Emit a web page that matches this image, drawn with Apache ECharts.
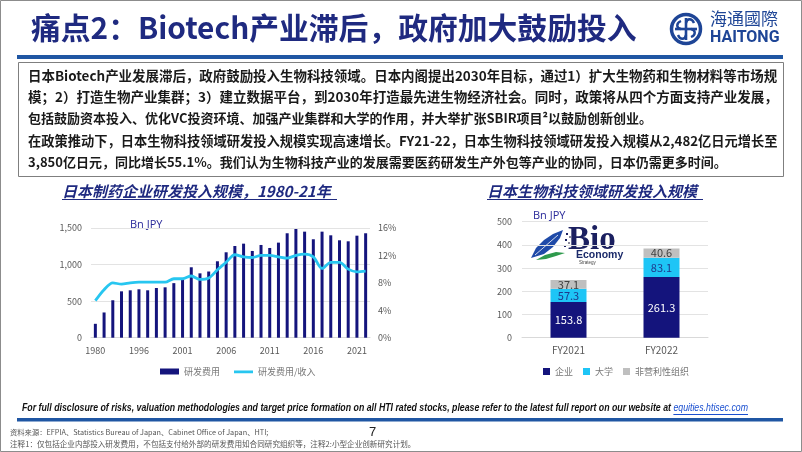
<!DOCTYPE html>
<html>
<head>
<meta charset="utf-8">
<script src="https://cdn.jsdelivr.net/npm/echarts@6/dist/echarts.min.js"></script>
<style>
html,body{margin:0;padding:0;background:#fff;}
#c{width:802px;height:452px;}
</style>
</head>
<body>
<div id="c"></div>
<script>
// ---------------- data ----------------
const years = ['1980','1985','1990','1994','1995','1996','1997','1998','1999','2000','2001','2002','2003','2004','2005','2006','2007','2008','2009','2010','2011','2012','2013','2014','2015','2016','2017','2018','2019','2020','2021','2022'];
const rdSpend = [190,345,512,634,648,662,648,680,689,746,791,963,880,905,1045,1168,1254,1286,1186,1268,1227,1300,1428,1486,1450,1346,1450,1400,1332,1318,1395,1428];
const rdRatio = [5.4,7.0,8.0,7.8,8.0,8.1,8.1,8.1,8.1,8.6,8.6,9.0,8.5,8.7,9.9,11.0,12.1,11.8,11.7,12.0,12.0,11.8,11.6,12.0,12.2,11.8,10.1,11.0,11.0,10.0,9.6,9.7];
const leftTicks = [0,500,1000,1500];
const rightTicks = [0,4,8,12,16];

const fyCats = ['FY2021','FY2022'];
const corp = [153.8,261.3];
const univ = [57.3,83.1];
const nonprofit = [37.1,40.6];

const navy = '#14147c';
const cyan = '#27c6f0';
const titleBlue = '#1f2a80';
const CJK = "'Noto Sans CJK SC','Noto Sans',sans-serif";

const bodyLines = [
 '日本Biotech产业发展滞后，政府鼓励投入生物科技领域。日本内阁提出2030年目标，通过1）扩大生物药和生物材料等市场规',
 '模；2）打造生物产业集群；3）建立数据平台，到2030年打造最先进生物经济社会。同时，政策将从四个方面支持产业发展，',
 '包括鼓励资本投入、优化VC投资环境、加强产业集群和大学的作用，并大举扩张SBIR项目²以鼓励创新创业。',
 '在政策推动下，日本生物科技领域研发投入规模实现高速增长。FY21-22，日本生物科技领域研发投入规模从2,482亿日元增长至',
 '3,850亿日元，同比增长55.1%。我们认为生物科技产业的发展需要医药研发生产外包等产业的协同，日本仍需更多时间。'
];
const bodyY = [76,97,118,141,162];
const bodyJustify = [true,true,false,true,false];

const footA = 'For full disclosure of risks, valuation methodologies and target price formation on all HTI rated stocks, please refer to the latest full report on our website at ';
const footB = 'equities.htisec.com';

// ---------------- helpers ----------------
const mctx = document.createElement('canvas').getContext('2d');
function measure(font, text){ mctx.font = font; return mctx.measureText(text).width; }
function fitSize(prefix, family, text, target, base){
  const w = measure(prefix + ' ' + base + 'px ' + family, text);
  return base * target / w;
}

const chart = echarts.init(document.getElementById('c'), null, {renderer:'canvas'});

function txt(x, y, text, font, fill, extra){
  return {type:'text', x:x, y:y, style:Object.assign({text:text, font:font, fill:fill, verticalAlign:'middle'}, extra||{})};
}
function bez(x1,y1,cx1,cy1,cx2,cy2,x2,y2,color,w){
  return {type:'bezierCurve', shape:{x1:x1,y1:y1,cpx1:cx1,cpy1:cy1,cpx2:cx2,cpy2:cy2,x2:x2,y2:y2}, style:{fill:'none',stroke:color,lineWidth:w}};
}
const hb = '#1e4596';

const titleText = '痛点2：Biotech产业滞后，政府加大鼓励投入';
const titleSize = Math.min(31, fitSize('bold', CJK, titleText, 606, 29));

// footer: natural size, horizontally condensed to the reference width
const footFam = "'Liberation Sans','Open Sans',sans-serif";
const footFontA = 'italic bold 11.5px ' + footFam;
const footFontB = 'italic 11.5px ' + footFam;
const footAW = measure(footFontA, footA);
const footBW = measure(footFontB, footB);
const footScale = 726 / (footAW + footBW);

const graphics = [
  {type:'rect', shape:{x:0.5,y:0.5,width:801,height:451}, style:{fill:'none',stroke:'#8c8c8c',lineWidth:1}, silent:true},
  txt(31, 28, titleText, "bold " + titleSize + "px " + CJK, titleBlue),
  {type:'rect', shape:{x:17,y:55,width:766,height:4}, style:{fill:'#1f56a3'}},
  // Haitong logo
  {type:'circle', shape:{cx:686,cy:29,r:14.5}, style:{fill:'none',stroke:hb,lineWidth:3.5}},
  {type:'line', shape:{x1:686,y1:18,x2:686,y2:40}, style:{stroke:hb,lineWidth:2.6}},
  {type:'line', shape:{x1:675,y1:29,x2:697,y2:29}, style:{stroke:hb,lineWidth:2.6}},
  bez(681,21,676,23,676,28,681,29,hb,2.4),
  bez(691,37,696,35,696,30,691,29,hb,2.4),
  bez(678,35,680,40,685,40,686,35,hb,2.4),
  bez(694,23,692,18,687,18,686,23,hb,2.4),
  txt(710, 19, '海通國際', "17px "+CJK, hb),
  txt(710, 38, 'HAITONG', "bold 16px 'Liberation Sans Narrow','Roboto',sans-serif", hb),
  // text box
  {type:'rect', shape:{x:18.5,y:62.5,width:765,height:114}, style:{fill:'none',stroke:'#7f7f7f',lineWidth:1}},
  // chart titles
  txt(62, 191, '日本制药企业研发投入规模，1980-21年', "italic bold 15px "+CJK, titleBlue),
  {type:'rect', shape:{x:62,y:199,width:275,height:1}, style:{fill:titleBlue}},
  txt(487, 191, '日本生物科技领域研发投入规模', "italic bold 15px "+CJK, titleBlue),
  {type:'rect', shape:{x:487,y:199,width:216,height:1}, style:{fill:titleBlue}},
  // unit labels
  txt(130, 225, 'Bn JPY', "11px 'Open Sans',sans-serif", '#2a2a9a'),
  txt(533, 216, 'Bn JPY', "11px 'Open Sans',sans-serif", '#2a2a9a'),
  // Bio Economy logo
  {type:'polygon', shape:{points:[[531,258],[536,248],[544,240],[553,234],[563,230],[560,238],[553,247],[544,254]]}, style:{fill:'#1f4aa8'}},
  {type:'line', shape:{x1:535,y1:255,x2:558,y2:235}, style:{stroke:'#ffffff',lineWidth:0.8}},
  {type:'polygon', shape:{points:[[536,260],[545,255],[556,252],[565,253],[556,256],[546,259]]}, style:{fill:'#2e9a4c'}},
  txt(568, 240, 'Bio', "bold 33px 'Liberation Serif',serif", '#1b2060'),
  txt(576, 255, 'Economy', "bold 10.5px 'Liberation Sans',sans-serif", '#1b2a6a'),
  txt(579, 263, 'Strategy', "4.5px 'Liberation Sans',sans-serif", '#444'),
  {type:'rect', shape:{x:566,y:233,width:2,height:2}, style:{fill:'#1b2060'}},
  {type:'rect', shape:{x:569,y:236,width:2,height:2}, style:{fill:'#8a8a9a'}},
  {type:'rect', shape:{x:565,y:239,width:2,height:2}, style:{fill:'#1b2060'}},
  {type:'rect', shape:{x:568,y:242,width:2,height:2}, style:{fill:'#8a8a9a'}},
  {type:'rect', shape:{x:564,y:245,width:2,height:2}, style:{fill:'#1b2060'}},
  // footer
  {type:'text', x:22, y:408, scaleX:footScale, style:{text:footA, font:footFontA, fill:'#111', verticalAlign:'middle'}},
  {type:'text', x:22 + footAW*footScale, y:408, scaleX:footScale, style:{text:footB, font:footFontB, fill:'#1a4fd0', verticalAlign:'middle'}},
  {type:'rect', shape:{x:22 + footAW*footScale, y:414, width:footBW*footScale, height:0.9}, style:{fill:'#1a4fd0'}},
  {type:'rect', shape:{x:17,y:418,width:766,height:3.5}, style:{fill:'#1f56a3'}},
  txt(10, 432, '资料来源：EFPIA、Statistics Bureau of Japan、Cabinet Office of Japan、HTI;', "7.3px "+CJK, '#555'),
  txt(369, 432, '7', "13px 'Liberation Sans',sans-serif", '#222'),
  txt(10, 444, '注释1：仅包括企业内部投入研发费用，不包括支付给外部的研发费用如合同研究组织等，注释2:小型企业创新研究计划。', "7.6px "+CJK, '#555')
];
bodyLines.forEach((t,i)=>{
  let size = 13;
  if (bodyJustify[i]) size = fitSize('bold', CJK, t, 750, 13);
  graphics.push(txt(28, bodyY[i], t, "bold " + size + "px " + CJK, '#1a1a1a'));
});

const axisLbl = {color:'#595959', fontSize:9, fontFamily:CJK};

const option = {
  animation:false,
  backgroundColor:'#ffffff',
  textStyle:{fontFamily:CJK},
  grid:[
    {left:91, right:432, top:228, bottom:114.3},
    {left:522, right:94, top:221.7, bottom:114.3}
  ],
  legend:[
    {data:[{name:'研发费用', icon:'rect'},
           {name:'研发费用/收入', icon:'path://M0,0 L0.01,0 L0.01,0.01 Z M0,2 L20,2 L20,4.8 L0,4.8 Z M0,6 L0.01,6 L0.01,5.99 Z'}],
     left:155, top:362, itemWidth:19, itemHeight:6, itemGap:14,
     textStyle:{fontSize:9, color:'#777'}},
    {data:['企业','大学','非营利性组织'], icon:'rect', left:538, top:362, itemWidth:7, itemHeight:7, itemGap:10,
     textStyle:{fontSize:9, color:'#777'}}
  ],
  xAxis:[
    {type:'category', gridIndex:0, data:years, axisTick:{show:false},
     axisLine:{lineStyle:{color:'#d9d9d9'}}, axisLabel:Object.assign({interval:4, margin:8}, axisLbl)},
    {type:'category', gridIndex:1, data:fyCats, axisTick:{show:false},
     axisLine:{lineStyle:{color:'#d9d9d9'}}, axisLabel:Object.assign({margin:8}, axisLbl, {fontSize:10})}
  ],
  yAxis:[
    {type:'value', gridIndex:0, min:leftTicks[0], max:leftTicks[leftTicks.length-1], interval:leftTicks[1]-leftTicks[0],
     axisLine:{show:false}, axisTick:{show:false}, splitLine:{lineStyle:{color:'#e3e3e3'}},
     axisLabel:Object.assign({margin:9, formatter:v=>v.toLocaleString('en-US')}, axisLbl)},
    {type:'value', gridIndex:0, position:'right', min:rightTicks[0], max:rightTicks[rightTicks.length-1], interval:rightTicks[1]-rightTicks[0],
     axisLine:{show:false}, axisTick:{show:false}, splitLine:{show:false},
     axisLabel:Object.assign({margin:8, formatter:'{value}%'}, axisLbl)},
    {type:'value', gridIndex:1, min:0, max:500, interval:100,
     axisLine:{show:false}, axisTick:{show:false}, splitLine:{lineStyle:{color:'#e3e3e3'}},
     axisLabel:Object.assign({margin:10}, axisLbl)}
  ],
  series:[
    {name:'研发费用', type:'bar', xAxisIndex:0, yAxisIndex:0, data:rdSpend, barWidth:3, itemStyle:{color:navy}},
    {name:'研发费用/收入', type:'line', xAxisIndex:0, yAxisIndex:1, data:rdRatio, smooth:0.3, symbol:'none',
     lineStyle:{color:cyan, width:2.8}, itemStyle:{color:cyan}},
    {name:'企业', type:'bar', stack:'s', xAxisIndex:1, yAxisIndex:2, data:corp, barWidth:36, itemStyle:{color:navy},
     label:{show:true, position:'inside', color:'#ffffff', fontSize:11}},
    {name:'大学', type:'bar', stack:'s', xAxisIndex:1, yAxisIndex:2, data:univ, barWidth:36, itemStyle:{color:'#1ec5f6'},
     label:{show:true, position:'inside', color:'#1f3a8c', fontSize:11}},
    {name:'非营利性组织', type:'bar', stack:'s', xAxisIndex:1, yAxisIndex:2, data:nonprofit, barWidth:36, itemStyle:{color:'#bfbfbf'},
     label:{show:true, position:'inside', color:'#404040', fontSize:11}}
  ],
  graphic:graphics
};
chart.setOption(option);
</script>
</body>
</html>
